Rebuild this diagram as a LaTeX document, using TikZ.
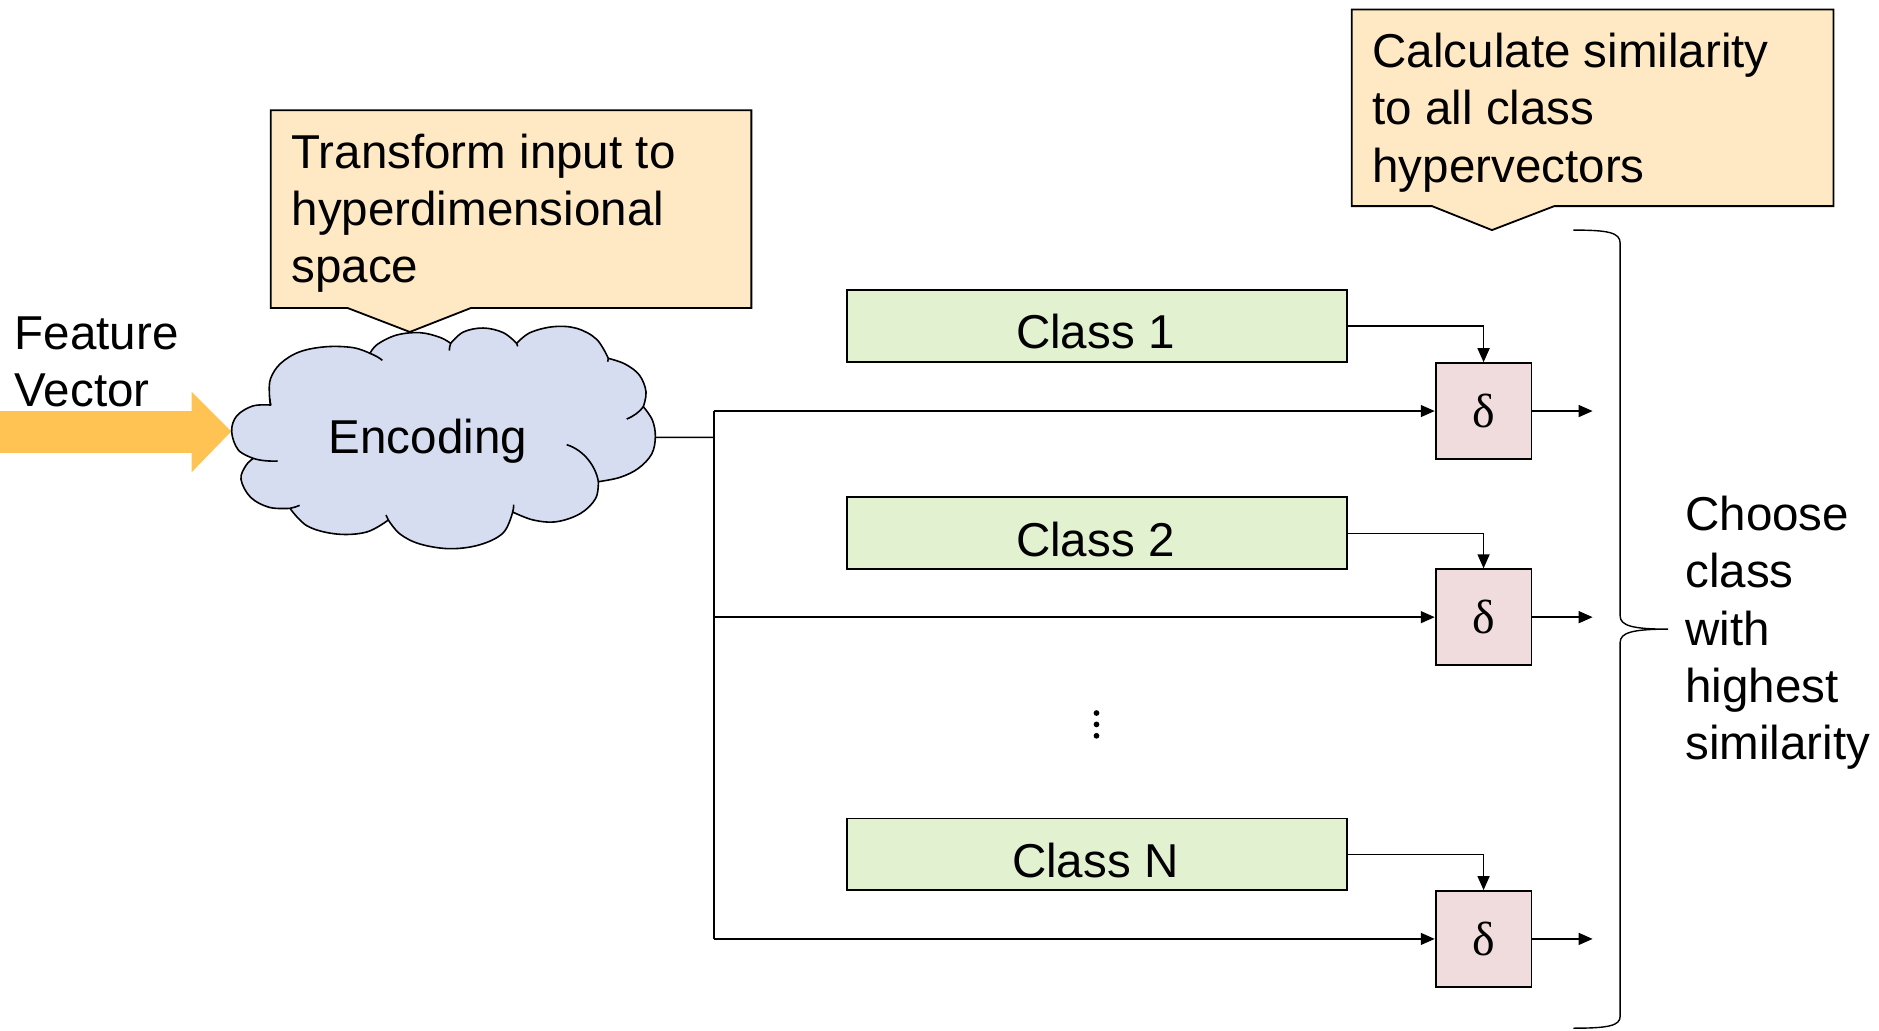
\documentclass[tikz,border=0pt]{standalone}
\usepackage{fontspec}
\setmainfont{Liberation Sans}
\newfontfamily\deltafont{Liberation Serif}
\usetikzlibrary{arrows.meta}
\definecolor{calloutfill}{HTML}{FFE8C4}
\definecolor{cloudfill}{HTML}{D6DDF0}
\definecolor{classfill}{HTML}{E2F2D0}
\definecolor{deltafill}{HTML}{F0DCDC}
\definecolor{orangearrow}{HTML}{FFC353}
\begin{document}
\begin{tikzpicture}[x=0.6pt,y=-0.6pt,
  txt/.style={font=\fontsize{23.8}{28.7}\selectfont, inner sep=0pt, align=left},
  calloutbox/.style={draw=black, line width=0.9pt, fill=calloutfill, line join=miter},
  classbox/.style={draw=black, line width=0.9pt, fill=classfill, minimum width=250.2pt, minimum height=36pt, inner sep=0pt},
  classlabel/.style={font=\fontsize{23.8}{28.7}\selectfont, inner sep=0pt},
  deltabox/.style={draw=black, line width=0.9pt, fill=deltafill, minimum width=48pt, minimum height=48pt, inner sep=0pt, font=\deltafont\fontsize{24}{28}\selectfont},
  cloudline/.style={draw=black, line width=0.8pt},
  conn/.style={line width=0.75pt, draw=black},
  arr/.style={conn, -{Triangle[length=7pt,width=6pt]}}
]
\useasboundingbox (0,0) rectangle (1568,860);

% orange input arrow
\fill[orangearrow] (0,343) -- (160,343) -- (160,327) -- (193,360) -- (160,394) -- (160,378) -- (0,378) -- cycle;

% feature vector label
\node[txt, anchor=west] (fv) at (12,302) {Feature\\Vector};

% cloud (traced outline)
\begin{scope}[shift={(183.59,258.70)}, x=0.16690pt, y=-0.16690pt]
  \filldraw[cloudline, fill=cloudfill, line join=round]
    plot[smooth, tension=0.6] coordinates {(152,285) (148,250) (152,205) (182,160) (240,125) (320,110) (400,113) (450,130)}
    -- plot[smooth, tension=0.6] coordinates {(450,130) (472,103) (530,75) (600,68) (660,82) (692,100)}
    -- plot[smooth, tension=0.6] coordinates {(692,100) (730,66) (790,54) (850,68) (890,100)}
    -- plot[smooth, tension=0.6] coordinates {(890,100) (930,68) (1000,50) (1070,55) (1130,88) (1165,145)}
    -- plot[smooth, tension=0.6] coordinates {(1165,145) (1215,162) (1258,195) (1278,245) (1270,290)}
    -- plot[smooth, tension=0.6] coordinates {(1270,290) (1297,330) (1306,380) (1295,432) (1255,475) (1200,502) (1135,515)}
    -- plot[smooth, tension=0.6] coordinates {(1135,515) (1127,565) (1082,610) (1010,635) (940,630) (878,606)}
    -- plot[smooth, tension=0.6] coordinates {(878,606) (850,668) (780,704) (690,716) (600,702) (540,672) (505,630)}
    -- plot[smooth, tension=0.6] coordinates {(505,630) (440,666) (350,672) (262,648) (210,595)}
    -- plot[smooth, tension=0.6] coordinates {(210,595) (148,592) (92,562) (63,508) (78,466) (100,445)}
    -- plot[smooth, tension=0.6] coordinates {(100,445) (55,420) (35,365) (50,318) (98,288) (152,285)}
    -- cycle;
  % inner arcs of the cloud
  \draw[cloudline] (450,130) .. controls (465,136) and (478,143) .. (487,151);
  \draw[cloudline] (692,100) .. controls (689,108) and (688,115) .. (688,122);
  \draw[cloudline] (890,100) .. controls (891,103) and (892,106) .. (893,109);
  \draw[cloudline] (1165,145) .. controls (1165,148) and (1164,151) .. (1163,155);
  \draw[cloudline] (1270,290) .. controls (1258,306) and (1242,318) .. (1220,327);
  \draw[cloudline] (1135,515) .. controls (1128,470) and (1092,420) .. (1040,404);
  \draw[cloudline] (878,606) .. controls (880,600) and (881,592) .. (881,584);
  \draw[cloudline] (505,630) .. controls (502,625) and (500,620) .. (498,615);
  \draw[cloudline] (210,595) .. controls (220,593) and (230,590) .. (239,586);
  \draw[cloudline] (100,445) .. controls (120,452) and (148,454) .. (173,453);
  \draw[cloudline] (152,285) .. controls (150,278) and (149,272) .. (149,266);
  \coordinate (encE) at (1306,382);
\end{scope}
\node[txt] (enclabel) at (357,368) {Encoding};

% callout 1
\draw[calloutbox] (226,92) -- (627,92) -- (627,257) -- (393,257) -- (342,277) -- (290,257) -- (226,257) -- cycle;
\node[txt, anchor=west] (c1text) at (243,178) {Transform input to\\hyperdimensional\\space};

% callout 2
\draw[calloutbox] (1128,8) -- (1530,8) -- (1530,172) -- (1297,172) -- (1245,192) -- (1195,172) -- (1128,172) -- cycle;
\node[txt, anchor=west] (c2text) at (1145,94) {Calculate similarity\\to all class\\hypervectors};

% class boxes
\node[classbox] (cl1) at (915.5,272) {};
\node[classbox] (cl2) at (915.5,445) {};
\node[classbox] (clN) at (915.5,713) {};
\node[classlabel] (cl1t) at (914,277) {Class 1};
\node[classlabel] (cl2t) at (914,450) {Class 2};
\node[classlabel] (clNt) at (914,718) {Class N};

% delta boxes
\node[deltabox] (d1) at (1238,343) {δ};
\node[deltabox] (d2) at (1238,515) {δ};
\node[deltabox] (dN) at (1238,783.5) {δ};

% vertical ellipsis
\fill (915,595) circle[radius=2.4];
\fill (915,604.5) circle[radius=2.4];
\fill (915,614) circle[radius=2.4];

% bus
\coordinate (jm) at (596,365);
\coordinate (j1) at (596,343);
\coordinate (j2) at (596,515);
\coordinate (jN) at (596,783.5);
\draw[conn] (encE) -- (jm);
\draw[conn] (j1) -- (jN);
\draw[arr] (j1) -- (d1.west);
\draw[arr] (j2) -- (d2.west);
\draw[arr] (jN) -- (dN.west);

% class to delta
\draw[arr] (cl1.east) -| (d1.north);
\draw[arr] (cl2.east) -| (d2.north);
\draw[arr] (clN.east) -| (dN.north);

% outputs
\coordinate (o1) at (1329,343);
\coordinate (o2) at (1329,515);
\coordinate (oN) at (1329,783.5);
\draw[arr] (d1.east) -- (o1);
\draw[arr] (d2.east) -- (o2);
\draw[arr] (dN.east) -- (oN);

% brace
\coordinate (bt) at (1313,192);
\coordinate (btip) at (1392,525);
\coordinate (bb) at (1313,858);
\draw[conn, line width=0.7pt] (bt) .. controls (1342,192) and (1352,194) .. (1352,203) -- (1352,514)
  .. controls (1352,522) and (1362,525) .. (btip)
  .. controls (1362,525) and (1352,528) .. (1352,536) -- (1352,848)
  .. controls (1352,856) and (1342,858) .. (bb);

% choose text
\node[txt, anchor=west] (choose) at (1406,528) {Choose\\class\\with\\highest\\similarity};
\end{tikzpicture}
\end{document}
